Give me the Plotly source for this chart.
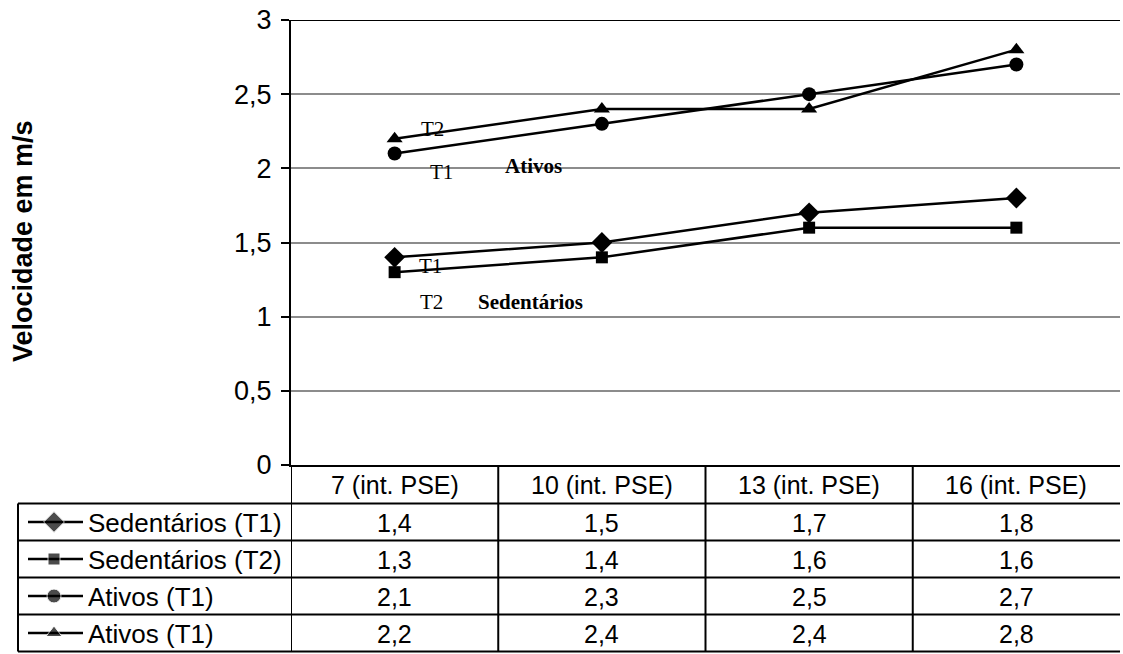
import plotly.graph_objects as go

# ---------------- data ----------------
categories = ["7 (int. PSE)", "10 (int. PSE)", "13 (int. PSE)", "16 (int. PSE)"]
series_names = ["Sedentários (T1)", "Sedentários (T2)", "Ativos (T1)", "Ativos (T1)"]
sedentarios_t1 = [1.4, 1.5, 1.7, 1.8]
sedentarios_t2 = [1.3, 1.4, 1.6, 1.6]
ativos_t1 = [2.1, 2.3, 2.5, 2.7]
ativos_t2 = [2.2, 2.4, 2.4, 2.8]
y_tick_values = [0, 0.5, 1, 1.5, 2, 2.5, 3]
y_tick_labels = ["0", "0,5", "1", "1,5", "2", "2,5", "3"]
y_title = "Velocidade em m/s"

series_values = [sedentarios_t1, sedentarios_t2, ativos_t1, ativos_t2]
symbols = ["diamond", "square", "circle", "triangle-up"]
sizes = [16, 12, 14, 14]

# ---------------- layout geometry (pixels) ----------------
W, H = 1123, 654
PL, PR, PT, PB = 291, 1120, 20, 465
TL = 18
HEAD_B = 503.5
ROW_H = 37.0
SANS = "Liberation Sans, Arial, sans-serif"
SERIF = "Liberation Serif, Times New Roman, serif"
FS = 25


def fx(px):
    return px / W


def fy(py):
    return 1 - py / H


fig = go.Figure()

for name, vals, sym, sz in zip(series_names, series_values, symbols, sizes):
    fig.add_trace(go.Scatter(
        x=categories, y=vals, mode="lines+markers", name=name,
        line=dict(color="black", width=2.5),
        marker=dict(symbol=sym, size=sz, color="black"),
        cliponaxis=False, showlegend=False,
    ))

# legend keys inside the data table (on a full-page pixel axis)
for i, (sym, sz) in enumerate(zip(symbols, sizes)):
    yc = HEAD_B + ROW_H * (i + 0.5)
    fig.add_trace(go.Scatter(
        x=[28, 54, 83], y=[yc, yc, yc], mode="lines+markers",
        line=dict(color="black", width=2.5),
        marker=dict(symbol=sym, size=[0, sz, 0], color="black"),
        xaxis="x2", yaxis="y2", showlegend=False, hoverinfo="skip", cliponaxis=False,
    ))

shapes = []
# top line at 3
shapes.append(dict(type="line", xref="x domain", yref="y", x0=0, x1=1, y0=3, y1=3,
                   line=dict(color="black", width=2)))
# table horizontal lines
n_rows = len(series_names)
for k in range(n_rows + 1):
    py = HEAD_B + ROW_H * k
    shapes.append(dict(type="line", xref="paper", yref="paper",
                       x0=fx(TL), x1=fx(PR), y0=fy(py), y1=fy(py),
                       line=dict(color="black", width=2)))
table_bottom = HEAD_B + ROW_H * n_rows
# table vertical lines
shapes.append(dict(type="line", xref="paper", yref="paper",
                   x0=fx(TL), x1=fx(TL), y0=fy(HEAD_B), y1=fy(table_bottom),
                   line=dict(color="black", width=2)))
for j in range(len(categories)):
    shapes.append(dict(type="line", xref="x", yref="paper",
                       x0=j - 0.5, x1=j - 0.5, y0=fy(PB), y1=fy(table_bottom),
                       line=dict(color="black", width=2)))

annotations = []
# header
for c in categories:
    annotations.append(dict(x=c, y=fy((PB + HEAD_B) / 2 + 1), xref="x", yref="paper",
                            xanchor="center", yanchor="middle",
                            text=c, showarrow=False, font=dict(family=SANS, size=FS, color="black")))
# rows
for i, (name, vals) in enumerate(zip(series_names, series_values)):
    yc = fy(HEAD_B + ROW_H * (i + 0.5) + 1)
    annotations.append(dict(x=fx(86), y=yc, xref="paper", yref="paper", xanchor="left", yanchor="middle",
                            text=name, showarrow=False, font=dict(family=SANS, size=26, color="black")))
    for c, v in zip(categories, vals):
        annotations.append(dict(x=c, y=yc, xref="x", yref="paper", xanchor="center", yanchor="middle",
                                text=f"{v:.1f}".replace(".", ","), showarrow=False,
                                font=dict(family=SANS, size=FS, color="black")))

# y title
annotations.append(dict(x=fx(23), y=fy(241), xref="paper", yref="paper", text="<b>" + y_title + "</b>",
                        xanchor="center", yanchor="middle",
                        textangle=-90, showarrow=False, font=dict(family=SANS, size=27, color="black")))


# in-plot labels
def xc(px):
    return (px - PL) / (PR - PL) * 4 - 0.5


def yv(py):
    return (PB - py) / (PB - PT) * 3


serif_labels = [
    ("T2", 432, 129, False),
    ("T1", 441, 172, False),
    ("Ativos", 533, 166, True),
    ("T1", 430, 266, False),
    ("T2", 431, 302, False),
    ("Sedentários", 530, 302, True),
]
for txt, px, py, bold in serif_labels:
    annotations.append(dict(x=xc(px), y=yv(py), xref="x", yref="y", xanchor="center", yanchor="middle",
                            text=("<b>%s</b>" % txt) if bold else txt, showarrow=False,
                            font=dict(family=SERIF, size=21, color="black")))

fig.update_layout(
    width=W, height=H,
    margin=dict(l=0, r=0, t=0, b=0, pad=0, autoexpand=False),
    paper_bgcolor="white", plot_bgcolor="rgba(0,0,0,0)",
    showlegend=False,
    xaxis=dict(domain=[fx(PL), fx(PR)], type="category", range=[-0.5, 3.5],
               showticklabels=False, ticks="", showgrid=False, zeroline=False, automargin=False,
               showline=True, linecolor="black", linewidth=2, fixedrange=True),
    yaxis=dict(domain=[fy(PB), fy(PT)], range=[0, 3], tickvals=y_tick_values, ticktext=y_tick_labels,
               ticks="outside", ticklen=8, tickwidth=2, tickcolor="black", automargin=False,
               ticklabelstandoff=4,
               showgrid=True, gridcolor="#8c8c8c", gridwidth=1.5, zeroline=False,
               showline=True, linecolor="black", linewidth=2,
               tickfont=dict(family=SANS, size=27, color="black"), fixedrange=True),
    xaxis2=dict(domain=[0, 1], range=[0, W], visible=False, anchor="y2", automargin=False, fixedrange=True),
    yaxis2=dict(domain=[0, 1], range=[H, 0], visible=False, anchor="x2", automargin=False, fixedrange=True),
    shapes=shapes,
    annotations=annotations,
)

fig.write_html("out.html")
